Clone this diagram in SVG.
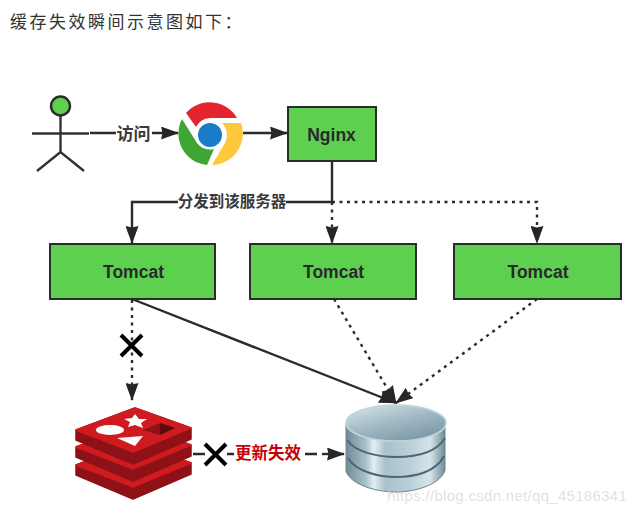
<svg xmlns="http://www.w3.org/2000/svg" width="638" height="514" viewBox="0 0 638 514">
<defs>
<marker id="arr" viewBox="0 0 18 13" refX="17" refY="6.500" markerWidth="18" markerHeight="13" markerUnits="userSpaceOnUse" orient="auto"><path d="M0 0L18 6.500L0 13L1.500 6.500Z" fill="#262626"/></marker>
<linearGradient id="disc" x1="0" x2="1" y1="0" y2="0"><stop offset="0" stop-color="#6f8b97"/><stop offset=".2" stop-color="#a8c0ca"/><stop offset=".28" stop-color="#e4eef1"/><stop offset=".4" stop-color="#a9c1cb"/><stop offset=".65" stop-color="#b9d0d8"/><stop offset=".85" stop-color="#d6e4e9"/><stop offset="1" stop-color="#6f8b97"/></linearGradient>
<linearGradient id="top" x1="0" x2=".7" y1="0" y2="1"><stop offset="0" stop-color="#dbe7eb"/><stop offset=".5" stop-color="#a3bcc7"/><stop offset="1" stop-color="#7a98a6"/></linearGradient>
<path id="layer" d="M76 430L135 408L191 428V439L133 464L76 440Z" fill="#8d1116" stroke="#8d1116" stroke-width="1.500" stroke-linejoin="round"/>
<path id="face" d="M76 430L135 408L191 428L133 452Z" fill="#cf1b20" stroke="#cf1b20" stroke-width="1.500" stroke-linejoin="round"/>
</defs>
<style>
.box{fill:#5dd14f;stroke:#2b2b2b;stroke-width:2}
.t{font-family:"Liberation Sans",Arial,sans-serif;font-weight:700;font-size:17.500px;fill:#2a2a2a;text-anchor:middle}
.cjk{font-family:"Noto Sans CJK SC","Liberation Sans",sans-serif;font-weight:700;fill:#3a3a3a;text-anchor:middle}
.ln{fill:none;stroke:#2b2b2b;stroke-width:2.400}
.dot{stroke-dasharray:3 4.500}
.x{fill:none;stroke:#000;stroke-width:4}
</style>
<text x="10" y="28" font-family="Noto Sans CJK SC, Liberation Sans, sans-serif" font-size="17" fill="#333" letter-spacing="2.500">缓存失效瞬间示意图如下：</text>
<g id="connectors">
<path class="ln" d="M90 133H178" marker-end="url(#arr)"/>
<path class="ln" d="M243 133H287" marker-end="url(#arr)"/>
<path class="ln" d="M332 162V202H132V243" marker-end="url(#arr)"/>
<path class="ln dot" d="M332 202V243" marker-end="url(#arr)"/>
<path class="ln dot" d="M332 202H537V243" marker-end="url(#arr)"/>
<path class="ln" d="M132 299L396 403" marker-end="url(#arr)"/>
<path class="ln dot" d="M334 299L396 403" marker-end="url(#arr)"/>
<path class="ln dot" d="M537 299L396 403" marker-end="url(#arr)"/>
<path class="ln dot" d="M132 300V400" marker-end="url(#arr)"/>
<path class="ln" d="M193 454H205M227 454H234M305 454H317"/>
<path class="ln" d="M322 454H344" marker-end="url(#arr)"/>
</g>
<rect x="116" y="124" width="36" height="20" fill="#fff"/>
<text class="cjk" x="133.500" y="139.500" font-size="17">访问</text>
<rect x="178" y="192" width="108" height="19" fill="#fff"/>
<text class="cjk" x="232" y="206.500" font-size="15.500">分发到该服务器</text>
<g id="user">
<circle cx="60.500" cy="106" r="9.500" fill="#5dd14f" stroke="#2b2b2b" stroke-width="2.400"/>
<path d="M60.500 116V152M32 133.500H89M37 171L60.500 152L84 171" fill="none" stroke="#333" stroke-width="2.400"/>
</g>
<g id="chrome">
<path d="M186 113A31.500 31.500 0 0 1 237 118H210A17 17 0 0 0 196 127Z" fill="#e4252d"/>
<path d="M182 119A31.500 31.500 0 0 0 207 165L214 149A17 17 0 0 1 197 143Z" fill="#3fa535"/>
<path d="M222 123H241A31.500 31.500 0 0 1 212 165L225 143A17 17 0 0 0 222 123Z" fill="#fdc93a"/>
<circle cx="210" cy="135" r="12" fill="#1a7cc8"/>
</g>
<g id="nginx"><rect class="box" x="288" y="107" width="88" height="54"/><text class="t" x="331.500" y="140.500">Nginx</text></g>
<g id="tomcat1"><rect class="box" x="50" y="244" width="165" height="55"/><text class="t" x="133.500" y="277.500">Tomcat</text></g>
<g id="tomcat2"><rect class="box" x="250" y="244" width="166" height="55"/><text class="t" x="333.500" y="277.500">Tomcat</text></g>
<g id="tomcat3"><rect class="box" x="454" y="244" width="167" height="55"/><text class="t" x="538" y="277.500">Tomcat</text></g>
<path class="x" d="M121 335L142 356M142 335L121 356"/>
<g id="redis">
<use href="#layer" y="35"/><use href="#face" y="35"/>
<use href="#layer" y="17"/><use href="#face" y="17"/>
<use href="#layer"/><use href="#face"/>
<path d="M135 414L139 419L147 419L141 423L143 428L135 425L128 427L130 422L124 419L132 418Z" fill="#fff"/>
<ellipse cx="110" cy="430" rx="14" ry="5" fill="#fff"/>
<path d="M117 438L143 436L135 446Z" fill="#fff"/>
<path d="M143 430L160 423L175 428L160 435Z" fill="#8d1116"/>
<path d="M160 423L175 428L160 435Z" fill="#5b0a0d"/>
</g>
<path class="x" d="M205 444L226 465M226 444L205 465"/>
<text x="268" y="459" font-family="Noto Sans CJK SC, sans-serif" font-weight="700" font-size="16.500" fill="#c8000a" text-anchor="middle">更新失效</text>
<g id="database">
<path d="M346 423V471C350 484 375 492 396 492C420 492 442 482 445 470V423Z" fill="url(#disc)" stroke="#6c8490" stroke-width="1"/>
<path d="M347 440C356 453 380 457 396 457C415 457 436 453 445 438M348 458C356 472 380 477 396 477C415 477 436 472 444 456" fill="none" stroke="#4f6670" stroke-width="2"/>
<ellipse cx="396" cy="423" rx="50" ry="18" fill="url(#top)" stroke="#c3d5db" stroke-width="1.500"/>
</g>
<text x="387" y="501" font-family="Liberation Sans, sans-serif" font-size="15" fill="#dcdcdc" fill-opacity=".85" letter-spacing=".3">https://blog.csdn.net/qq_45186341</text>
</svg>
